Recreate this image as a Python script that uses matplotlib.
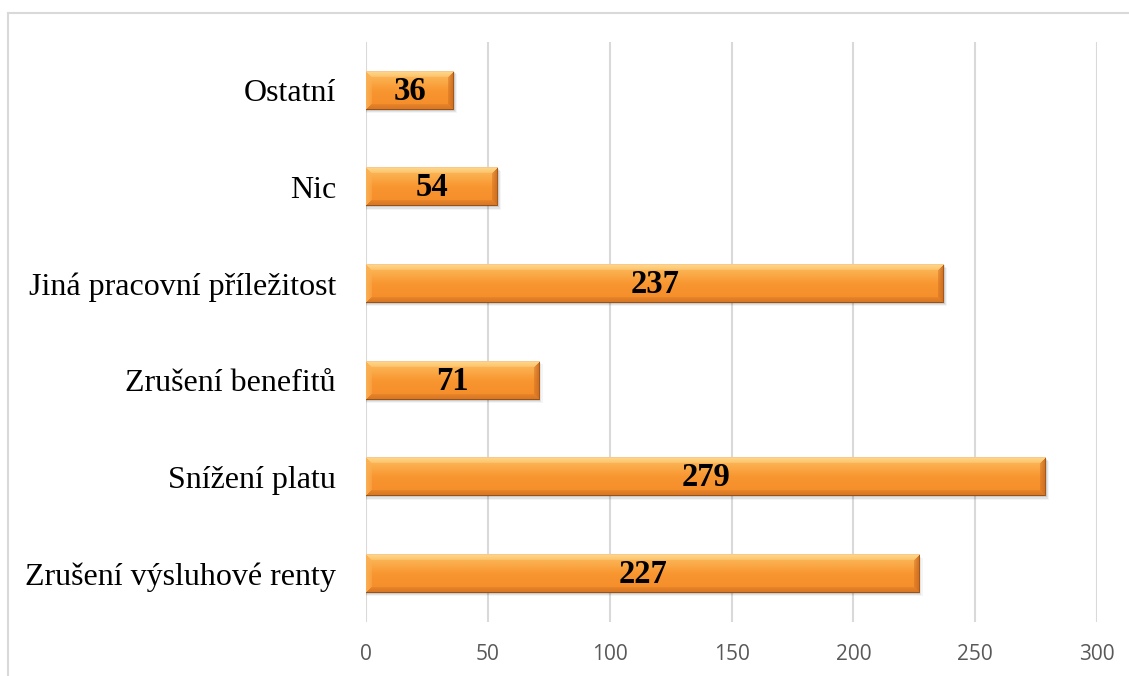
import numpy as np
import matplotlib
matplotlib.use("Agg")
import matplotlib.pyplot as plt
from matplotlib.lines import Line2D
from matplotlib.patches import Rectangle

# Reasons given (bottom to top) and the number of responses for each
categories = [
    "Zrušení výsluhové renty",
    "Snížení platu",
    "Zrušení benefitů",
    "Jiná pracovní příležitost",
    "Nic",
    "Ostatní",
]
counts = [227, 279, 71, 237, 54, 36]
x_ticks = [0, 50, 100, 150, 200, 250, 300]

W_PX, H_PX, DPI = 1129, 676, 100
fig = plt.figure(figsize=(W_PX / DPI, H_PX / DPI), dpi=DPI)
ax = fig.add_axes([366 / W_PX, 1 - 622 / H_PX, (1097 - 366) / W_PX, (622 - 42) / H_PX])

bar_h = 0.40
xmax = 300
px_per_unit = (1097 - 366) / xmax


def bevel_bar(width_px, height_px, bevel=6):
    """RGB image of an orange bar with a soft bevel and a vertical sheen."""
    H, W = height_px, max(width_px, 2)
    i = (np.arange(H) + 0.5)[:, None] * np.ones((1, W))
    j = np.ones((H, 1)) * (np.arange(W) + 0.5)[None, :]
    t = i / H
    top_c = np.array([253, 192, 100]) / 255
    mid_c = np.array([248, 150, 48]) / 255
    bot_c = np.array([244, 140, 42]) / 255
    k = np.clip(t / 0.5, 0, 1)[..., None]
    k2 = np.clip((t - 0.5) / 0.5, 0, 1)[..., None]
    img = np.where(t[..., None] < 0.5,
                   top_c * (1 - k) + mid_c * k,
                   mid_c * (1 - k2) + bot_c * k2)
    dt, db, dl, dr = i, H - i, j, W - j
    d = np.stack([dt, db, dl, dr])
    which = np.argmin(d, axis=0)
    dmin = np.min(d, axis=0)
    shades = [np.array([254, 216, 140]) / 255,   # top
              np.array([212, 116, 36]) / 255,    # bottom
              np.array([251, 176, 84]) / 255,    # left
              np.array([204, 108, 32]) / 255]    # right
    in_bevel = dmin < bevel
    for e in range(4):
        m = in_bevel & (which == e)
        f = (1 - dmin / bevel)[..., None] * 0.6 + 0.4
        img = np.where(m[..., None], img * (1 - f) + shades[e] * f, img)
    # thin darker rim on the lower and right sides
    rim = np.array([150, 80, 22]) / 255
    img[-1:, :, :] = rim
    img[:, -1:, :] = rim * 1.1
    img[0, :, :] = np.array([250, 200, 140]) / 255
    return np.clip(img, 0, 1)


ypos = np.arange(len(categories))
for y, v in zip(ypos, counts):
    # soft shadow beneath each bar
    for k, a in enumerate([0.10, 0.07, 0.04]):
        off = (k + 1) * 0.012
        ax.add_patch(Rectangle((0, y - bar_h / 2 - off), v + off * 40, bar_h,
                               facecolor="#000000", alpha=a, edgecolor="none", zorder=2))
    img = bevel_bar(int(round(v * px_per_unit)), 40)
    ax.imshow(img, extent=[0, v, y - bar_h / 2, y + bar_h / 2], aspect="auto",
              origin="upper", interpolation="bilinear", zorder=3)
    ax.text(v / 2, y - 0.01, str(v), ha="center", va="center", fontsize=23.5,
            fontweight="bold", family="Liberation Serif", color="black", zorder=4)

ax.set_xlim(0, xmax)
ax.set_ylim(-0.5, len(categories) - 0.5)
ax.set_xticks(x_ticks)
ax.set_xticklabels([str(t) for t in x_ticks], fontsize=15, color="#595959",
                   family="Open Sans")
ax.set_yticks(ypos)
ax.set_yticklabels(categories, fontsize=23, family="Liberation Serif", color="black")
ax.tick_params(axis="x", length=0, pad=16)
ax.tick_params(axis="y", length=0, pad=21.6)
ax.grid(axis="x", color="#D9D9D9", linewidth=1.5, zorder=0)
ax.set_axisbelow(True)
for s in ax.spines.values():
    s.set_visible(False)

# chart-area frame (top and left edges)
fig.add_artist(Line2D([8 / W_PX, 1], [1 - 13 / H_PX, 1 - 13 / H_PX],
                      transform=fig.transFigure, color="#D9D9D9", lw=1.5))
fig.add_artist(Line2D([8 / W_PX, 8 / W_PX], [0, 1 - 13 / H_PX],
                      transform=fig.transFigure, color="#D9D9D9", lw=1.5))

fig.savefig("out.png", dpi=DPI)
